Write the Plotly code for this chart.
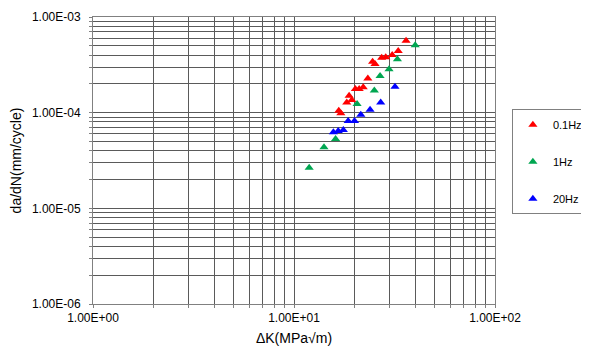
import plotly.graph_objects as go

# Data
x_01hz = [36.1, 33.0, 30.8, 28.6, 27.3, 24.6, 25.3, 23.3, 22.1, 21.1, 20.2, 18.8, 19.4, 18.3, 16.7, 17.1]
y_01hz = [5.65e-4, 4.41e-4, 4.01e-4, 3.79e-4, 3.76e-4, 3.41e-4, 3.23e-4, 2.27e-4, 1.84e-4, 1.77e-4,
          1.77e-4, 1.50e-4, 1.36e-4, 1.28e-4, 1.05e-4, 9.85e-5]
x_1hz = [40.1, 32.7, 29.7, 26.8, 25.1, 20.6, 16.1, 14.1, 11.9]
y_1hz = [5.06e-4, 3.61e-4, 2.84e-4, 2.42e-4, 1.70e-4, 1.23e-4, 5.31e-5, 4.35e-5, 2.66e-5]
x_20hz = [31.8, 27.0, 23.9, 21.5, 20.0, 18.6, 17.6, 16.6, 15.7]
y_20hz = [1.87e-4, 1.28e-4, 1.07e-4, 9.52e-5, 8.18e-5, 8.18e-5, 6.59e-5, 6.43e-5, 6.23e-5]

series_names = ["0.1Hz", "1Hz", "20Hz"]
series_colors = ["#FF0000", "#00A651", "#0000FF"]

x_decades = [1, 10, 100]
x_decade_labels = ["1.00E+00", "1.00E+01", "1.00E+02"]
y_decades = [1e-6, 1e-5, 1e-4, 1e-3]
y_decade_labels = ["1.00E-06", "1.00E-05", "1.00E-04", "1.00E-03"]


def log_ticks(decades, labels):
    vals, texts = [], []
    for i, d in enumerate(decades):
        for m in range(1, 10):
            if i == len(decades) - 1 and m > 1:
                break
            vals.append(d * m)
            texts.append(labels[i] if m == 1 else "")
    return vals, texts


xv, xt = log_ticks(x_decades, x_decade_labels)
yv, yt = log_ticks(y_decades, y_decade_labels)

font_family = "Liberation Sans, Arial, sans-serif"

fig = go.Figure()
for i, (xs, ys) in enumerate([(x_01hz, y_01hz), (x_1hz, y_1hz), (x_20hz, y_20hz)]):
    fig.add_trace(go.Scatter(
        x=xs, y=ys, mode="markers", name=series_names[i], legendgroup=series_names[i],
        marker=dict(symbol="triangle-up", size=8, color=series_colors[i], line=dict(width=0)),
    ))

axis_common = dict(
    type="log",
    showgrid=True, gridcolor="#5a5a5a", gridwidth=1,
    showline=True, linecolor="#808080", linewidth=1, mirror=True,
    ticks="outside", ticklen=3, tickcolor="#808080",
    tickfont=dict(family=font_family, size=12, color="#000000"),
    zeroline=False,
)

fig.update_xaxes(
    **axis_common, range=[0, 2], tickmode="array", tickvals=xv, ticktext=xt,
    ticklabelstandoff=0,
    title=dict(text="ΔK(MPa√m)", font=dict(family=font_family, size=14, color="#000"), standoff=8),
)
fig.update_yaxes(
    **axis_common, range=[-6, -3], tickmode="array", tickvals=yv, ticktext=yt,
    ticklabelstandoff=6,
    title=dict(text="da/dN(mm/cycle)", font=dict(family=font_family, size=14, color="#000"), standoff=8),
)

# the page body adds an 8px offset; size the figure so the plot area lands where the reference has it
fig.update_layout(
    width=581, height=341,
    margin=dict(l=85, r=94, t=9, b=45, autoexpand=False),
    paper_bgcolor="white", plot_bgcolor="white",
    showlegend=True,
    legend=dict(
        x=1.042, xanchor="left", y=0.679, yanchor="top",
        bordercolor="#808080", borderwidth=1, bgcolor="white",
        font=dict(family=font_family, size=11, color="#000"),
        tracegroupgap=18, itemwidth=30,
    ),
)

fig.write_html("out.html")
